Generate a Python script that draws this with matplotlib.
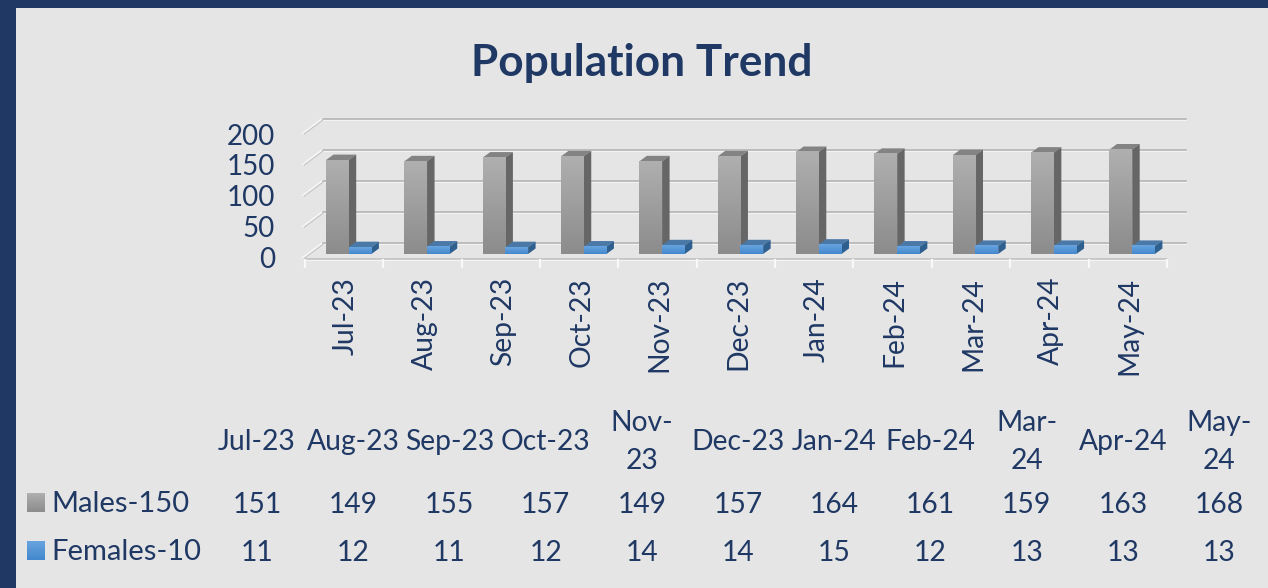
import numpy as np
import matplotlib
matplotlib.use('Agg')
import matplotlib.pyplot as plt
from matplotlib.colors import LinearSegmentedColormap

plt.rcParams['font.family'] = ['Lato', 'DejaVu Sans']

months = ['Jul-23', 'Aug-23', 'Sep-23', 'Oct-23', 'Nov-23', 'Dec-23',
          'Jan-24', 'Feb-24', 'Mar-24', 'Apr-24', 'May-24']
table_heads = ['Jul-23', 'Aug-23', 'Sep-23', 'Oct-23', 'Nov-\n23', 'Dec-23',
               'Jan-24', 'Feb-24', 'Mar-\n24', 'Apr-24', 'May-\n24']
males = [151, 149, 155, 157, 149, 157, 164, 161, 159, 163, 168]
females = [11, 12, 11, 12, 14, 14, 15, 12, 13, 13, 13]
y_ticks = [0, 50, 100, 150, 200]

NAVY = '#1F3864'
BG = '#E5E5E5'
W, H = 1268, 588

# pixel layout of the plot
X0, XSTEP = 305, 78.35
Y0, YSCALE = 254, 0.622


def dx(px):
    return px / XSTEP


def dy(px):
    return px / YSCALE


def px2x(px):
    return (px - X0) / XSTEP


def px2y(py):
    return (Y0 - py) / YSCALE


fig = plt.figure(figsize=(W / 100, H / 100), dpi=100, facecolor=BG)
ax = fig.add_axes([0, 0, 1, 1])
ax.axis('off')

grey_cm = LinearSegmentedColormap.from_list('g', ['#AFAFAF', '#8C8C8C'])
blue_cm = LinearSegmentedColormap.from_list('b', ['#68A4E0', '#4388CC'])
grad = np.linspace(0, 1, 64).reshape(-1, 1)

# back wall + left wall gridlines
back_off = dy(11)
wall_x0, wall_x1, wall_xb = px2x(303), px2x(322.7), px2x(1185.5)
for v in y_ticks:
    yb = v + back_off
    yf = v - dy(3.7)
    ax.plot([wall_x1, wall_xb], [yb - dy(1), yb - dy(1)], color='#F5F5F5', lw=1.3, zorder=1)
    ax.plot([wall_x1, wall_xb], [yb, yb], color='#B4B4B4', lw=1.2, zorder=1.1)
    ax.plot([wall_x0, wall_x1], [yf, yb], color='#F5F5F5', lw=1.6, zorder=1)
    ax.plot([wall_x0 + dx(1), wall_x1 + dx(1)], [yf - dy(0.8), yb - dy(0.8)], color='#C4C4C4', lw=0.8, zorder=1.1)

# front axis line with ticks
ax.plot([0, 11], [px2y(260)] * 2, color='#F5F5F5', lw=1.5, zorder=1)
ax.plot([0, 11], [px2y(258.7)] * 2, color='#BDBDBD', lw=1.1, zorder=1.1)
for i in range(12):
    ax.plot([i, i], [px2y(260), px2y(267.5)], color='#F8F8F8', lw=1.6, zorder=1.2)


def bar3d(x, w, v, cmap, top_col, side_col, z, ddx, ddy):
    ax.imshow(grad, cmap=cmap, extent=[x, x + w, 0, v], aspect='auto', zorder=z + 0.2, interpolation='bilinear')
    ax.fill([x, x + dx(ddx), x + w + dx(ddx), x + w], [v, v + dy(ddy), v + dy(ddy), v], color=top_col, lw=0, zorder=z)
    ax.fill([x + w, x + w + dx(ddx), x + w + dx(ddx), x + w], [0, dy(ddy), v + dy(ddy), v], color=side_col, lw=0, zorder=z)


bar_w = 22.7 / XSTEP
for i in range(len(months)):
    bar3d(i + 0.268, bar_w, males[i], grey_cm, '#838383', '#666666', 3, 7.5, 5.5)
    bar3d(i + 0.268 + bar_w, bar_w, females[i], blue_cm, '#4A79A8', '#2F5F8E', 4, 7.5, 5.5)

# navy border
ax.fill([px2x(0), px2x(W), px2x(W), px2x(0)], [px2y(0), px2y(0), px2y(8.5), px2y(8.5)], color=NAVY, lw=0, zorder=6)
ax.fill([px2x(0), px2x(16), px2x(16), px2x(0)], [px2y(0), px2y(0), px2y(H), px2y(H)], color=NAVY, lw=0, zorder=6)

ax.text(px2x(641.5), px2y(63), 'Population Trend', color=NAVY, fontsize=31.8, fontweight='bold', ha='center', va='center')

for v, py in zip(y_ticks, [260, 229, 198, 167, 137]):
    ax.text(px2x(275), px2y(py), str(v), color=NAVY, fontsize=20, ha='right', va='center')

for i, m in enumerate(months):
    ax.text(i + 0.5 + dx(2), px2y(277), m, color=NAVY, fontsize=20.3, rotation=90, ha='center', va='top')

# data table under the chart
col_x = [257 + 96.2 * i for i in range(len(months))]
for cx, h, a, b in zip(col_x, table_heads, males, females):
    ax.text(px2x(cx), px2y(442), h, color=NAVY, fontsize=20.3, ha='center', va='center', linespacing=1.6)
    ax.text(px2x(cx), px2y(505), str(a), color=NAVY, fontsize=20.3, ha='center', va='center')
    ax.text(px2x(cx), px2y(553), str(b), color=NAVY, fontsize=20.3, ha='center', va='center')

for name, py, cm in [('Males-150', 503, grey_cm), ('Females-10', 551, blue_cm)]:
    ax.imshow(grad, cmap=cm, extent=[px2x(27), px2x(45), px2y(py + 9.5), px2y(py - 9.5)], aspect='auto', zorder=5)
    ax.text(px2x(51.5), px2y(py + 1), name, color=NAVY, fontsize=21, ha='left', va='center')

ax.set_xlim(px2x(0), px2x(W))
ax.set_ylim(px2y(H), px2y(0))

fig.savefig('out.png', dpi=100, facecolor=BG)
